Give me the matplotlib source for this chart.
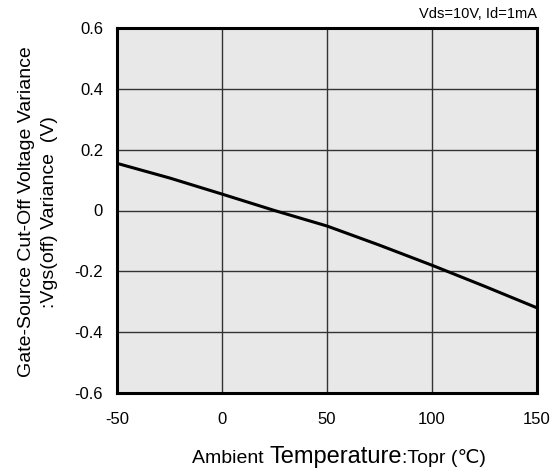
import matplotlib
matplotlib.use("Agg")
import matplotlib.pyplot as plt

temps = [-50, -25, 0, 25, 50, 75, 100, 125, 150]
variance = [0.155, 0.107, 0.054, 0.0, -0.051, -0.114, -0.18, -0.249, -0.32]
xticks = [-50, 0, 50, 100, 150]
yticks = [-0.6, -0.4, -0.2, 0, 0.2, 0.4, 0.6]
ytick_labels = ["-0.6", "-0.4", "-0.2", "0", "0.2", "0.4", "0.6"]
xtick_labels = ["-50", "0", "50", "100", "150"]

plt.rcParams['font.family'] = ['Liberation Sans', 'DejaVu Sans']
plt.rcParams['axes.unicode_minus'] = False
W, H = 555, 472
fig = plt.figure(figsize=(W/100, H/100), dpi=100)
ax = fig.add_axes([117/W, 1-393/H, (537-117)/W, (393-28)/H])
ax.set_facecolor('#e8e8e8')
ax.plot(temps, variance, color='black', lw=2.2, zorder=3)
ax.set_xlim(-50, 150)
ax.set_ylim(-0.6, 0.6)
ax.set_xticks(xticks)
ax.set_xticklabels(xtick_labels)
ax.set_yticks(yticks)
ax.set_yticklabels(ytick_labels)
ax.grid(True, color='#333333', lw=1.0, zorder=1)
ax.set_axisbelow(True)
for s in ax.spines.values():
    s.set_linewidth(2.2)
    s.set_color('black')
ax.tick_params(length=0, labelsize=12)
ax.tick_params(axis='y', pad=10)
ax.tick_params(axis='x', pad=14)

# x label built from pieces of different sizes
renderer = fig.canvas.get_renderer()
x0 = 192
base_y = 1 - 463/H
pieces = [("Ambient ", 14), ("Temperature", 17), (":Topr (\u2103)", 14)]
for txt, fs in pieces:
    t = fig.text(x0/W, base_y, txt, ha='left', va='baseline', fontsize=fs)
    bb = t.get_window_extent(renderer=renderer)
    x0 = bb.x1

fig.text(38/W, 1-212/H, 'Gate-Source Cut-Off Voltage Variance\n:Vgs(off) Variance  (V)', rotation=90,
         ha='center', va='center', fontsize=14, linespacing=1.45)
fig.text(537/W, 1-14/H, 'Vds=10V, Id=1mA', ha='right', va='center', fontsize=10.5)
fig.savefig('out.png', dpi=100)
